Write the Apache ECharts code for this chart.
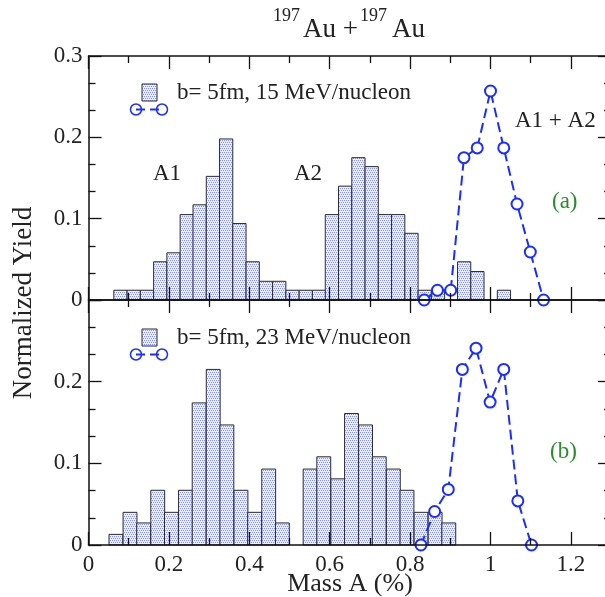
<!DOCTYPE html>
<html>
<head>
<meta charset="utf-8">
<script src="https://cdn.jsdelivr.net/npm/echarts@6/dist/echarts.min.js"></script>
<style>
html, body { margin: 0; padding: 0; background: #fff; }
#main { width: 605px; height: 597px; }
</style>
</head>
<body>
<div id="main"></div>
<script>
// panel (a): b = 5fm, 15 MeV/nucleon
var binLeftA = [0.063, 0.096, 0.129, 0.162, 0.195, 0.228, 0.260, 0.293, 0.326, 0.359,
	0.392, 0.425, 0.458, 0.491, 0.524, 0.557, 0.589, 0.622, 0.655, 0.688,
	0.721, 0.754, 0.787, 0.820, 0.853, 0.918, 0.951, 1.017];
var yieldA = [0.012, 0.012, 0.012, 0.047, 0.058, 0.105, 0.117, 0.152, 0.198, 0.094,
	0.047, 0.023, 0.023, 0.012, 0.012, 0.012, 0.105, 0.140, 0.175, 0.164,
	0.105, 0.105, 0.082, 0.012, 0.012, 0.047, 0.035, 0.012];
var binWidthA = 0.0329;
var sumMassA = [0.835, 0.868, 0.901, 0.934, 0.967, 1.000, 1.033, 1.066, 1.099, 1.132];
var sumYieldA = [0, 0.012, 0.012, 0.175, 0.187, 0.257, 0.187, 0.118, 0.059, 0];

// panel (b): b = 5fm, 23 MeV/nucleon
var binLeftB = [0.051, 0.086, 0.120, 0.155, 0.189, 0.224, 0.258, 0.293, 0.327, 0.362,
	0.396, 0.431, 0.465, 0.534, 0.568, 0.603, 0.637, 0.672, 0.706, 0.741,
	0.775, 0.810, 0.845, 0.879];
var yieldB = [0.013, 0.040, 0.027, 0.067, 0.040, 0.067, 0.174, 0.215, 0.147, 0.067,
	0.040, 0.093, 0.027, 0.093, 0.108, 0.081, 0.161, 0.147, 0.108, 0.093,
	0.067, 0.040, 0.040, 0.027];
var binWidthB = 0.0345;
var sumMassB = [0.827, 0.861, 0.895, 0.930, 0.964, 0.999, 1.033, 1.068, 1.102];
var sumYieldB = [0, 0.041, 0.068, 0.215, 0.241, 0.175, 0.215, 0.054, 0];

var legendA = 'b= 5fm, 15 MeV/nucleon';
var legendB = 'b= 5fm, 23 MeV/nucleon';

var SERIF = '"Liberation Serif", "Times New Roman", serif';
var BLUE = '#1a2eff';

// stippled light blue fill like the original bars
function makePattern() {
	var c = document.createElement('canvas');
	c.width = 4;
	c.height = 4;
	var ctx = c.getContext('2d');
	ctx.fillStyle = '#eceffd';
	ctx.fillRect(0, 0, 4, 4);
	ctx.fillStyle = '#8793f1';
	ctx.fillRect(0, 0, 1, 1);
	ctx.fillRect(2, 0, 1, 1);
	ctx.fillRect(1, 2, 1, 1);
	ctx.fillRect(3, 2, 1, 1);
	return c;
}
var dots = { image: makePattern(), repeat: 'repeat' };

function histData(left, w, vals) {
	var out = [];
	for (var i = 0; i < left.length; i++) {
		out.push([ left[i], left[i] + w, vals[i] ]);
	}
	return out;
}

function pairs(xs, ys) {
	var out = [];
	for (var i = 0; i < xs.length; i++) {
		out.push([ xs[i], ys[i] ]);
	}
	return out;
}

function renderBar(params, api) {
	var p0 = api.coord([ api.value(0), api.value(2) ]);
	var p1 = api.coord([ api.value(1), 0 ]);
	return {
		type : 'rect',
		shape : { x : p0[0], y : p0[1], width : p1[0] - p0[0], height : p1[1] - p0[1] },
		style : { fill : dots, stroke : '#2b2b2b', lineWidth : 1 }
	};
}

var axisLine = { onZero : false, lineStyle : { color : '#111', width : 1.5 } };
var tickStyle = { color : '#111', width : 1.3 };

function xAxis(grid, pos, labels) {
	return {
		type : 'value',
		gridIndex : grid,
		position : pos,
		min : 0,
		max : 1.4,
		interval : 0.2,
		z : 5,
		axisLine : axisLine,
		axisTick : { inside : true, length : 13, lineStyle : tickStyle },
		minorTick : { show : true, splitNumber : 2, length : 7, lineStyle : tickStyle },
		splitLine : { show : false },
		axisLabel : {
			show : labels,
			margin : 8,
			fontFamily : SERIF,
			fontSize : 23,
			color : '#222'
		}
	};
}

function yAxis(grid, pos, labels, showMax) {
	return {
		type : 'value',
		gridIndex : grid,
		position : pos,
		offset : pos === 'right' ? -40.2 : 0,
		min : 0,
		max : 0.3,
		interval : 0.1,
		z : 5,
		axisLine : axisLine,
		axisTick : { inside : true, length : 13, lineStyle : tickStyle },
		minorTick : { show : true, splitNumber : 3, length : 7, lineStyle : tickStyle },
		splitLine : { show : false },
		axisLabel : {
			show : labels,
			showMaxLabel : showMax,
			margin : 6,
			fontFamily : SERIF,
			fontSize : 23,
			color : '#222'
		}
	};
}

function sumSeries(name, xi, yi, data) {
	return {
		name : name,
		type : 'line',
		xAxisIndex : xi,
		yAxisIndex : yi,
		data : data,
		z : 4,
		clip : false,
		symbol : 'emptyCircle',
		symbolSize : 11,
		itemStyle : { color : BLUE, borderColor : BLUE, borderWidth : 1.5 },
		lineStyle : { color : BLUE, width : 2, type : [ 10, 5 ] }
	};
}

function text(x, y, str, size, color, align) {
	return {
		type : 'text',
		x : x,
		y : y,
		z : 10,
		style : {
			text : str,
			font : size + 'px ' + SERIF,
			fill : color || '#222',
			align : align || 'left',
			verticalAlign : 'middle',
			textAlign : align || 'left',
			textVerticalAlign : 'middle'
		}
	};
}

function legendSample(y) {
	return [ {
		type : 'rect',
		z : 10,
		shape : { x : 142, y : y - 8.5, width : 15, height : 17 },
		style : { fill : dots, stroke : '#2b2b2b', lineWidth : 1 }
	}, {
		type : 'line',
		z : 10,
		shape : { x1 : 136, y1 : y + 17, x2 : 162, y2 : y + 17 },
		style : { stroke : BLUE, lineWidth : 2, lineDash : [ 9, 5 ] }
	}, {
		type : 'circle',
		z : 11,
		shape : { cx : 136, cy : y + 17, r : 5.5 },
		style : { fill : 'none', stroke : BLUE, lineWidth : 1.5 }
	}, {
		type : 'circle',
		z : 11,
		shape : { cx : 162, cy : y + 17, r : 5.5 },
		style : { fill : 'none', stroke : BLUE, lineWidth : 1.5 }
	} ];
}

var chart = echarts.init(document.getElementById('main'), null, { renderer : 'canvas' });

var graphics = [
	text(273, 16, '197', 18),
	text(303, 29.5, 'Au +', 27),
	text(360, 16, '197', 18),
	text(392, 29.5, 'Au', 27),
	text(177, 92.5, legendA, 23),
	text(177, 337.5, legendB, 23),
	text(153, 174, 'A1', 23),
	text(294, 174, 'A2', 23),
	text(515, 120.5, 'A1 + A2', 23),
	text(552, 202, '(a)', 23, '#2a8c2a'),
	text(550, 452, '(b)', 23, '#2a8c2a'),
	text(350, 584, 'Mass A (%)', 26, '#222', 'center')
];
var yName = text(0, 0, 'Normalized Yield', 27, '#222', 'center');
yName.x = 24;
yName.y = 303;
yName.rotation = Math.PI / 2;
graphics.push(yName);
graphics = graphics.concat(legendSample(92.5), legendSample(337.5));

var option = {
	animation : false,
	backgroundColor : '#fff',
	grid : [
		{ left : 88.5, top : 56, width : 562.8, height : 244, outerBoundsMode : 'none', containLabel : false },
		{ left : 88.5, top : 300, width : 562.8, height : 245, outerBoundsMode : 'none', containLabel : false }
	],
	xAxis : [
		xAxis(0, 'bottom', false),
		xAxis(0, 'top', false),
		xAxis(1, 'bottom', true),
		xAxis(1, 'top', false)
	],
	yAxis : [
		yAxis(0, 'left', true, true),
		yAxis(0, 'right', false, true),
		yAxis(1, 'left', true, false),
		yAxis(1, 'right', false, false)
	],
	graphic : graphics,
	series : [ {
		name : legendA,
		type : 'custom',
		xAxisIndex : 0,
		yAxisIndex : 0,
		renderItem : renderBar,
		encode : { x : [ 0, 1 ], y : 2 },
		data : histData(binLeftA, binWidthA, yieldA),
		z : 2
	}, sumSeries('A1 + A2 (a)', 0, 0, pairs(sumMassA, sumYieldA)), {
		name : legendB,
		type : 'custom',
		xAxisIndex : 2,
		yAxisIndex : 2,
		renderItem : renderBar,
		encode : { x : [ 0, 1 ], y : 2 },
		data : histData(binLeftB, binWidthB, yieldB),
		z : 2
	}, sumSeries('A1 + A2 (b)', 2, 2, pairs(sumMassB, sumYieldB)) ]
};

chart.setOption(option);
</script>
</body>
</html>
